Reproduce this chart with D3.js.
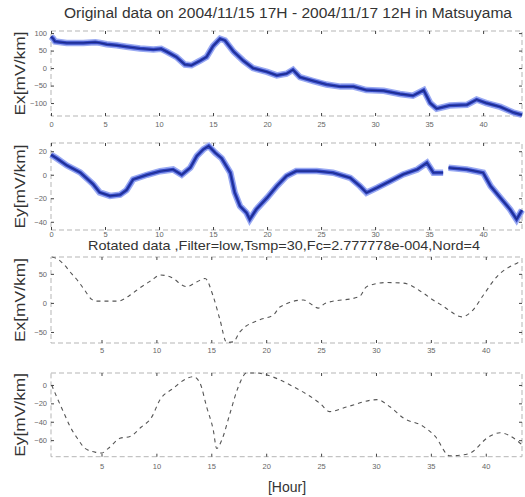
<!DOCTYPE html>
<meta charset="utf-8">
<style>
body { margin: 0; background: #fff; }
.tick text { font: 7.5px "Liberation Sans", Arial, sans-serif; fill: #666; }
.tick line { stroke: #444; }
.ylab { font: 14px "Liberation Sans", Arial, sans-serif; fill: #333; }
.ttl { font: 13px "Liberation Sans", Arial, sans-serif; fill: #333; }
</style>
<body>
<div id="chart"></div>
<script src="https://d3js.org/d3.v7.min.js"></script>
<script>
// original data (hour, mV/km)
var hoursEx = [0, 0.2, 0.37, 1.45, 2.99, 4.1, 4.54, 5.15, 6.08, 7.0, 8.24, 9.48, 10.2, 10.71, 11.6, 12.4, 13.0, 13.8, 14.4, 15.0, 15.65, 16.1, 16.9, 17.8, 18.7, 20.0, 20.9, 21.8, 22.4, 23.05, 24.3, 25.5, 26.8, 28.0, 29.2, 30.8, 32.3, 33.5, 34.5, 35.1, 35.7, 36.9, 38.5, 39.4, 40.3, 41.6, 42.8, 43.6];
var valuesEx = [90, 84, 76, 72, 72, 74, 72, 68, 65, 61, 56, 53, 55, 47, 32, 10, 8, 21, 32, 63, 84, 79, 47, 21, 0, -11, -21, -16, -5, -26, -37, -47, -53, -53, -63, -65, -74, -79, -63, -100, -116, -107, -105, -90, -100, -111, -127, -134];

var hoursEy = [0, 0.52, 1.45, 2.7, 3.9, 4.5, 5.46, 6.4, 7.0, 7.6, 8.9, 10.1, 11.3, 12.1, 12.9, 13.5, 14.1, 14.6, 15.2, 15.8, 16.6, 17.0, 17.5, 18.1, 18.4, 19.0, 20.0, 20.9, 21.8, 22.7, 24.6, 26.1, 27.7, 28.6, 29.2, 30.2, 31.4, 32.6, 33.9, 34.8, 35.4, 36.3, 36.45, 36.8, 38.5, 40.0, 40.7, 41.6, 42.5, 43.1, 43.6];
var valuesEy = [17, 14, 8, 2, -8, -15, -18, -17, -13, -4, 0, 3, 4.5, 0, 6, 16, 21.6, 24.4, 18.7, 14, 1.7, -15, -26.7, -32.4, -38, -29.5, -19.6, -9.7, -1.1, 3.1, 3.1, 1.7, -2.6, -9.7, -15.3, -11, -5.4, 0.3, 4.5, 10.2, 1.7, 1.7, null, 5.9, 4.5, 1.7, -9.7, -19.6, -29.5, -38, -30];

// rotated + filtered data
var hoursRx = [0.5, 1.04, 1.58, 2.29, 2.89, 3.5, 4.11, 4.56, 6.5, 7.5, 8.5, 9.57, 10.33, 11.24, 12.76, 13.67, 14.43, 15.18, 15.79, 16.4, 17.0, 17.6, 19.4, 20.65, 21.25, 23.4, 24.0, 24.75, 25.35, 28.5, 29.15, 30.97, 32.5, 34.3, 35.2, 36.0, 36.6, 37.8, 38.7, 39.8, 41.0, 42.8, 43.3];
var valuesRx = [79, 75, 66, 50, 37, 21, 6, 3, 3, 12, 26, 39, 48, 45, 28, 36, 42, 11, -29, -68, -67, -50, -29, -21, -7, 5, -1, -9, -1, 11, 28, 35, 34, 17, 5, -4, -12, -24, -15, 14, 45, 68, 72];

var hoursRy = [0.46, 0.92, 1.37, 1.67, 2.13, 2.8, 3.5, 4.41, 5.0, 5.62, 6.68, 7.6, 8.6, 9.57, 10.33, 11.5, 12.76, 13.36, 13.97, 14.58, 15.18, 15.49, 15.95, 16.7, 17.46, 18.22, 19.13, 20.0, 22.5, 24.9, 25.8, 27.3, 30.1, 31.3, 32.5, 34.3, 35.4, 36.7, 37.95, 38.6, 40.2, 41.3, 42.8, 43.3];
var valuesRy = [0, -13, -25, -33, -45, -58, -69, -73, -74, -69, -58, -56, -46, -35, -16, -4, 7, 9, 2, -24, -49, -69, -60, -31, -2, 13, 13, 11, -2, -20, -29, -24, -16, -24, -36, -45, -56, -77, -76, -74, -57, -52, -60, -65];

var xTicksOrig = [0, 5, 10, 15, 20, 25, 30, 35, 40];
var xTicksRot = [5, 10, 15, 20, 25, 30, 35, 40];
var yTicksEx = [100, 50, 0, -50, -100];
var yTicksEy = [20, 0, -20, -40];
var yTicksRx = [50, 0, -50];
var yTicksRy = [0, -20, -40, -60];

var title1 = "Original data on 2004/11/15 17H - 2004/11/17 12H in Matsuyama";
var title2 = "Rotated data ,Filter=low,Tsmp=30,Fc=2.777778e-004,Nord=4";

var width = 525, height = 497;
var svg = d3.select("#chart").append("svg").attr("width", width).attr("height", height);

var left = 51, right = 522;
var xOrig = d3.scaleLinear().domain([0, 43.6]).range([left, right]);
var xRot = d3.scaleLinear().domain([0.4, 43.3]).range([left, right]);

var panels = [
  {x: xOrig, y: d3.scaleLinear().domain([-137, 106]).range([116, 31]), hours: hoursEx, values: valuesEx, xt: xTicksOrig, yt: yTicksEx, lab: "Ex[mV/km]", pad: 6, kind: "raw"},
  {x: xOrig, y: d3.scaleLinear().domain([-47, 27]).range([230, 143]), hours: hoursEy, values: valuesEy, xt: xTicksOrig, yt: yTicksEy, lab: "Ey[mV/km]", pad: 2, kind: "raw"},
  {x: xRot, y: d3.scaleLinear().domain([-69, 79]).range([343, 257]), hours: hoursRx, values: valuesRx, xt: xTicksRot, yt: yTicksRx, lab: "Ex[mV/km]", pad: 5, kind: "rot"},
  {x: xRot, y: d3.scaleLinear().domain([-78, 13]).range([456.7, 373]), hours: hoursRy, values: valuesRy, xt: xTicksRot, yt: yTicksRy, lab: "Ey[mV/km]", pad: 7, kind: "rot"}
];

panels.forEach(function(p) {
  var y0 = p.y.range()[0], y1 = p.y.range()[1];
  var g = svg.append("g");

  // dotted box
  g.append("rect")
    .attr("x", left).attr("y", y1)
    .attr("width", right - left).attr("height", y0 - y1)
    .attr("fill", "none").attr("stroke", "#b5b5b5")
    .attr("stroke-width", 1).attr("stroke-dasharray", "5,3");

  var data = p.hours.map(function(h, i) { return {h: h, v: p.values[i]}; });
  var line = d3.line()
    .defined(function(d) { return d.v !== null; })
    .x(function(d) { return p.x(d.h); })
    .y(function(d) { return p.y(d.v); });

  if (p.kind == "raw") {
    g.append("path").datum(data).attr("d", line)
      .attr("fill", "none").attr("stroke", "#9aaaf2").attr("stroke-width", 6.5)
      .attr("stroke-linejoin", "miter");
    g.append("path").datum(data).attr("d", line)
      .attr("fill", "none").attr("stroke", "#3549c4").attr("stroke-width", 3.5)
      .attr("stroke-linejoin", "miter");
    g.append("path").datum(data).attr("d", line)
      .attr("fill", "none").attr("stroke", "#1b2a8a").attr("stroke-width", 1.2);
  } else {
    line.curve(d3.curveMonotoneX);
    g.append("path").datum(data).attr("d", line)
      .attr("fill", "none").attr("stroke", "#555").attr("stroke-width", 1.1)
      .attr("stroke-dasharray", "4,4");
  }

  // ticks inside, matlab style
  g.append("g").attr("transform", "translate(0," + y0 + ")")
    .call(d3.axisBottom(p.x).tickValues(p.xt).tickSizeInner(-3).tickSizeOuter(0).tickPadding(p.pad))
    .call(function(a) { a.select(".domain").remove(); });
  g.append("g").attr("transform", "translate(0," + y1 + ")")
    .call(d3.axisTop(p.x).tickValues(p.xt).tickSizeInner(-3).tickSizeOuter(0).tickFormat(""))
    .call(function(a) { a.select(".domain").remove(); });
  g.append("g").attr("transform", "translate(" + left + ",0)")
    .call(d3.axisLeft(p.y).tickValues(p.yt).tickSizeInner(-3).tickSizeOuter(0).tickPadding(4))
    .call(function(a) { a.select(".domain").remove(); });
  g.append("g").attr("transform", "translate(" + right + ",0)")
    .call(d3.axisRight(p.y).tickValues(p.yt).tickSizeInner(-3).tickSizeOuter(0).tickFormat(""))
    .call(function(a) { a.select(".domain").remove(); });

  g.append("text").attr("class", "ylab")
    .attr("text-anchor", "middle")
    .attr("transform", "translate(25," + ((y0 + y1) / 2) + ") rotate(-90)")
    .attr("textLength", 84).attr("lengthAdjust", "spacingAndGlyphs")
    .text(p.lab);
});

svg.append("text").attr("class", "ttl").attr("text-anchor", "middle")
  .attr("x", 288).attr("y", 18).style("font-size", "14px")
  .attr("textLength", 448).attr("lengthAdjust", "spacingAndGlyphs").text(title1);
svg.append("text").attr("class", "ttl").attr("text-anchor", "middle")
  .attr("x", 284).attr("y", 250)
  .attr("textLength", 392).attr("lengthAdjust", "spacingAndGlyphs").text(title2);
svg.append("text").attr("class", "ylab").attr("text-anchor", "middle")
  .attr("x", 287).attr("y", 492).text("[Hour]");
</script>
</body>
